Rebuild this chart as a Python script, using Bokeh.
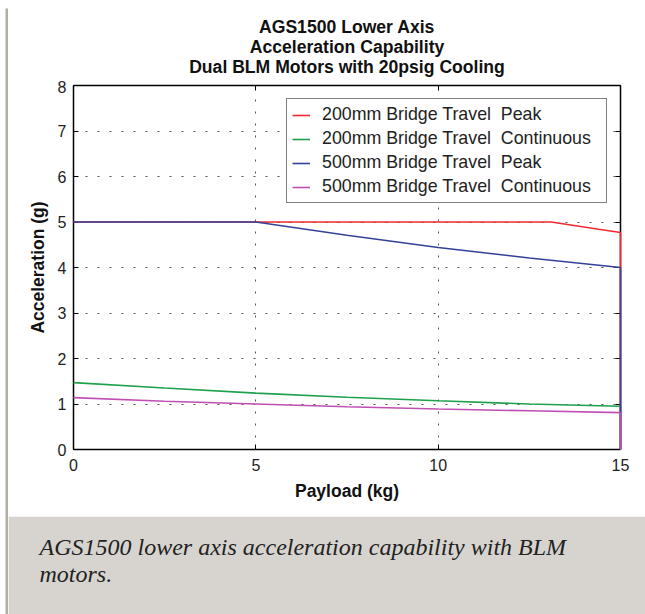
from bokeh.plotting import figure
from bokeh.layouts import column, row
from bokeh.models import (LinearAxis, Title, Legend, LegendItem, FixedTicker, Range1d, Spacer)
from bokeh.embed import file_html
from bokeh.resources import INLINE

# ---- data ----
payload_200_peak = [0, 13.1, 14.4, 15, 15]
accel_200_peak = [5.0, 5.0, 4.84, 4.77, 0.0]

payload_cont = [0, 2.5, 5, 7.5, 10, 12.5, 15, 15]
accel_200_cont = [1.47, 1.35, 1.24, 1.15, 1.07, 1.00, 0.95, 0.0]

payload_500_peak = [0, 5, 7.5, 10, 12.5, 15, 15]
accel_500_peak = [5.0, 5.0, 4.71, 4.44, 4.21, 4.00, 0.0]

accel_500_cont = [1.14, 1.06, 1.00, 0.94, 0.89, 0.85, 0.81, 0.0]

series_names = ["200mm Bridge Travel  Peak", "200mm Bridge Travel  Continuous",
                "500mm Bridge Travel  Peak", "500mm Bridge Travel  Continuous"]
series_colors = ["#f02a30", "#1ea04c", "#34429a", "#c04fb5"]

x_ticks = [0, 5, 10, 15]
y_ticks = [0, 1, 2, 3, 4, 5, 6, 7, 8]

title_lines = ["AGS1500 Lower Axis", "Acceleration Capability",
               "Dual BLM Motors with 20psig Cooling"]
caption_lines = ["AGS1500 lower axis acceleration capability with BLM", "motors."]

SANS = "Liberation Sans"
SERIF = "Liberation Serif"
BORDER = "#b3aea6"
BAND = "#d7d4cf"

INNER_W = 637     # page x 8..645
TITLE_H = 72      # page y 8..80
CHART_H = 433     # page y 80..513
LINE_H = 3        # page y 513..516
CAP_H = 98        # page y 516..614
BORDER_L, BORDER_R = 65, 25


def block(w, h, color):
    return figure(width=w, height=h, output_backend="svg", toolbar_location=None, title=None,
                  x_axis_type=None, y_axis_type=None, min_border=0,
                  background_fill_color=color, border_fill_color=color,
                  outline_line_color=None)


# ---- title part ----
tfig = figure(width=INNER_W, height=TITLE_H, output_backend="svg", toolbar_location=None,
              title=None, x_axis_type=None, y_axis_type=None,
              min_border_left=BORDER_L, min_border_right=BORDER_R,
              min_border_top=67, min_border_bottom=0,
              background_fill_color="white", border_fill_color="white",
              outline_line_color=None)
for line in reversed(title_lines):
    tfig.add_layout(Title(text=line, align="center", text_font=SANS, text_font_style="bold",
                          text_font_size="17.6px", text_color="#111111", standoff=-2.2), "above")

# ---- chart ----
p = figure(width=INNER_W, height=CHART_H, x_range=Range1d(0, 15), y_range=Range1d(0, 8),
           output_backend="svg", toolbar_location=None, title=None,
           min_border_left=BORDER_L, min_border_right=BORDER_R,
           min_border_top=5, min_border_bottom=64,
           background_fill_color="white", border_fill_color="white",
           outline_line_color=None)

xs = [payload_200_peak, payload_cont, payload_500_peak, payload_cont]
ys = [accel_200_peak, accel_200_cont, accel_500_peak, accel_500_cont]
renderers = []
for x, y, c in zip(xs, ys, series_colors):
    renderers.append(p.line(x, y, line_color=c, line_width=1.6, level="overlay"))

for ax in (p.xaxis[0], p.yaxis[0]):
    ax.axis_line_color = "black"
    ax.axis_line_width = 1.5
    ax.major_tick_in = 5
    ax.major_tick_out = 0
    ax.major_tick_line_color = "black"
    ax.major_tick_line_width = 1
    ax.minor_tick_line_color = None
    ax.major_label_text_font = SANS
    ax.major_label_text_font_size = "16px"
    ax.major_label_text_color = "#222222"
    ax.axis_label_text_font = SANS
    ax.axis_label_text_font_style = "bold"
    ax.axis_label_text_font_size = "17.5px"
    ax.axis_label_text_color = "#111111"

p.xaxis[0].ticker = FixedTicker(ticks=x_ticks)
p.yaxis[0].ticker = FixedTicker(ticks=y_ticks)
p.xaxis[0].axis_label = "Payload (kg)"
p.yaxis[0].axis_label = "Acceleration (g)"
p.xaxis[0].major_label_standoff = 9
p.xaxis[0].axis_label_standoff = 7
p.yaxis[0].major_label_standoff = 7
p.yaxis[0].axis_label_standoff = 7

top_ax = LinearAxis(ticker=FixedTicker(ticks=x_ticks))
right_ax = LinearAxis(ticker=FixedTicker(ticks=y_ticks))
for ax in (top_ax, right_ax):
    ax.axis_line_color = "black"
    ax.axis_line_width = 1.5
    ax.major_tick_in = 5
    ax.major_tick_out = 0
    ax.major_tick_line_color = "black"
    ax.minor_tick_line_color = None
    ax.major_label_text_color = None
    ax.major_label_text_font_size = "1px"
    ax.major_label_standoff = 0
p.add_layout(top_ax, "above")
p.add_layout(right_ax, "right")

for g in (p.xgrid[0], p.ygrid[0]):
    g.grid_line_color = "#555555"
    g.grid_line_width = 1
    g.grid_line_dash = "2 10"
p.xgrid[0].ticker = FixedTicker(ticks=x_ticks)
p.ygrid[0].ticker = FixedTicker(ticks=y_ticks)

legend = Legend(items=[LegendItem(label=n, renderers=[r]) for n, r in zip(series_names, renderers)],
                location="top_right", margin=13, padding=5, spacing=3,
                glyph_height=20, glyph_width=18, label_height=20, label_width=279,
                label_standoff=12, label_text_font=SANS, label_text_font_size="17.8px",
                label_text_color="#222222",
                border_line_color="black", border_line_width=1.5,
                background_fill_color="white", background_fill_alpha=1.0)
p.add_layout(legend)

# ---- caption band (plot frame collapsed to zero height) ----
cap = figure(width=INNER_W, height=CAP_H, output_backend="svg", toolbar_location=None,
             title=None, x_axis_type=None, y_axis_type=None,
             min_border_left=BORDER_L, min_border_right=BORDER_R,
             min_border_top=70, min_border_bottom=28,
             background_fill_color=BAND, border_fill_color=BAND, outline_line_color=None)
for line in reversed(caption_lines):
    cap.add_layout(Title(text=line, align="left", offset=-34, text_font=SERIF,
                         text_font_style="italic", text_font_size="24px",
                         text_color="#222222", standoff=-1), "above")

right_part = column(tfig, p, block(INNER_W, LINE_H, BORDER), cap, spacing=0)
body = row(Spacer(width=5, height=606), block(3, 606, BORDER), right_part, spacing=0)
top_strip = row(Spacer(width=5, height=3), block(640, 3, BORDER), spacing=0)
layout = column(Spacer(width=645, height=5), top_strip, body, spacing=0)

open("out.html", "w").write(file_html(layout, INLINE))
